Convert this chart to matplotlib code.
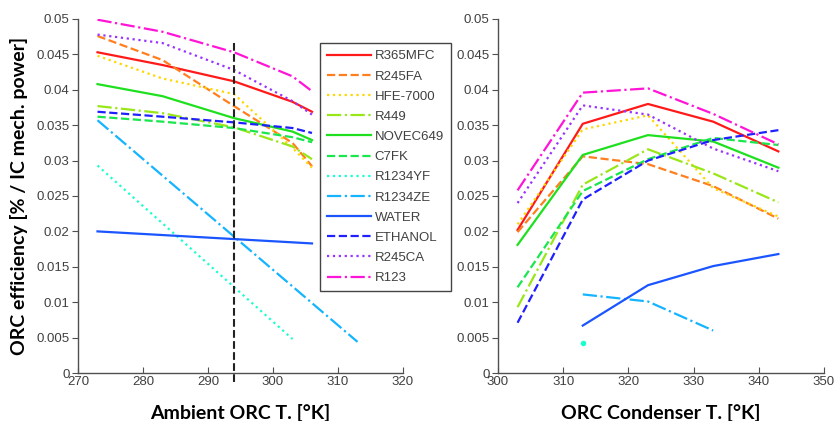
import matplotlib
matplotlib.use("Agg")
import matplotlib.pyplot as plt

# ---------------- data ----------------
fluids = ["R365MFC", "R245FA", "HFE-7000", "R449", "NOVEC649", "C7FK",
          "R1234YF", "R1234ZE", "WATER", "ETHANOL", "R245CA", "R123"]

# Left panel: ambient ORC temperature [K]
amb_T = [273, 283, 294, 303, 306]
amb_R365MFC = [0.0453, 0.0435, 0.0412, 0.0383, 0.0369]
amb_R245FA = [0.0476, 0.0442, 0.0377, 0.0325, 0.0292]
amb_HFE7000 = [0.0448, 0.0416, 0.0394, 0.0318, 0.0290]
amb_R449 = [0.0377, 0.0367, 0.0347, 0.0320, 0.0302]
amb_NOVEC649 = [0.0408, 0.0391, 0.0360, 0.0341, 0.0329]
amb_C7FK = [0.0362, 0.0355, 0.0346, 0.0333, 0.0326]
amb_R1234YF_T = [273, 303]
amb_R1234YF = [0.0293, 0.0048]
amb_R1234ZE_T = [273, 313]
amb_R1234ZE = [0.0357, 0.0044]
amb_WATER_T = [273, 306]
amb_WATER = [0.0200, 0.0183]
amb_ETHANOL = [0.0369, 0.0362, 0.0354, 0.0346, 0.0339]
amb_R245CA = [0.0478, 0.0466, 0.0428, 0.0384, 0.0365]
amb_R123 = [0.0499, 0.0482, 0.0453, 0.0419, 0.0398]
design_T = 294

# Right panel: ORC condenser temperature [K]
cond_T = [303, 313, 323, 333, 343]
cond_R365MFC = [0.0202, 0.0352, 0.0380, 0.0355, 0.0313]
cond_R245FA = [0.0199, 0.0306, 0.0295, 0.0264, 0.0218]
cond_HFE7000 = [0.0210, 0.0344, 0.0364, 0.0261, 0.0221]
cond_R449 = [0.0093, 0.0266, 0.0316, 0.0282, 0.0241]
cond_NOVEC649 = [0.0181, 0.0308, 0.0336, 0.0327, 0.0290]
cond_C7FK = [0.0121, 0.0257, 0.0302, 0.0332, 0.0322]
cond_R1234YF_T = [313]
cond_R1234YF = [0.0043]
cond_R1234ZE_T = [313, 323, 333]
cond_R1234ZE = [0.0111, 0.0101, 0.0060]
cond_WATER_T = [313, 323, 333, 343]
cond_WATER = [0.0067, 0.0124, 0.0151, 0.0168]
cond_ETHANOL = [0.0071, 0.0245, 0.0300, 0.0329, 0.0343]
cond_R245CA = [0.0240, 0.0378, 0.0365, 0.0317, 0.0285]
cond_R123 = [0.0258, 0.0396, 0.0402, 0.0366, 0.0323]

colors = ["#ff1a1a", "#ff7f1f", "#ffd700", "#99e619", "#1fe01f", "#1ae64d",
          "#1affd0", "#14b4ff", "#1a55ff", "#2020ff", "#9933ff", "#ff14d8"]
styles = ["-", "--", ":", "-.", "-", "--", ":", "-.", "-", "--", ":", "-."]

left_series = [
    (amb_T, amb_R365MFC), (amb_T, amb_R245FA), (amb_T, amb_HFE7000),
    (amb_T, amb_R449), (amb_T, amb_NOVEC649), (amb_T, amb_C7FK),
    (amb_R1234YF_T, amb_R1234YF), (amb_R1234ZE_T, amb_R1234ZE),
    (amb_WATER_T, amb_WATER), (amb_T, amb_ETHANOL), (amb_T, amb_R245CA),
    (amb_T, amb_R123)]
right_series = [
    (cond_T, cond_R365MFC), (cond_T, cond_R245FA), (cond_T, cond_HFE7000),
    (cond_T, cond_R449), (cond_T, cond_NOVEC649), (cond_T, cond_C7FK),
    (cond_R1234YF_T, cond_R1234YF), (cond_R1234ZE_T, cond_R1234ZE),
    (cond_WATER_T, cond_WATER), (cond_T, cond_ETHANOL), (cond_T, cond_R245CA),
    (cond_T, cond_R123)]

# ---------------- figure ----------------
W, H = 836, 421
fig = plt.figure(figsize=(W / 100, H / 100), dpi=100)
axL = fig.add_axes([78 / W, 1 - 373 / H, 325 / W, 354 / H])
axR = fig.add_axes([498 / W, 1 - 373 / H, 326 / W, 354 / H])

spine_col = "#505050"
tick_col = "#404040"
label_font = ["Lato", "DejaVu Sans"]
tick_font = ["Liberation Sans", "DejaVu Sans"]

handles = []
for i, (x, y) in enumerate(left_series):
    h, = axL.plot(x, y, styles[i], color=colors[i], lw=1.6, label=fluids[i])
    handles.append(h)
axL.plot([design_T, design_T], [0.0466, -0.0016], "--", color="#222222",
         lw=1.5, clip_on=False, zorder=5)

for i, (x, y) in enumerate(right_series):
    if len(x) == 1:
        axR.plot(x, y, "o", color=colors[i], ms=3)
    else:
        axR.plot(x, y, styles[i], color=colors[i], lw=1.6)

for ax, xl, xt, xlabel in [(axL, (270, 320), range(270, 321, 10), "Ambient ORC T. [°K]"),
                           (axR, (300, 350), range(300, 351, 10), "ORC Condenser T. [°K]")]:
    ax.set_xlim(*xl)
    ax.set_ylim(0, 0.05)
    ax.set_xticks(list(xt))
    ax.set_yticks([0, 0.005, 0.01, 0.015, 0.02, 0.025, 0.03, 0.035, 0.04, 0.045, 0.05])
    ax.set_yticklabels(["0", "0.005", "0.01", "0.015", "0.02", "0.025", "0.03",
                        "0.035", "0.04", "0.045", "0.05"])
    for s in ["top", "right"]:
        ax.spines[s].set_visible(False)
    for s in ["left", "bottom"]:
        ax.spines[s].set_color(spine_col)
        ax.spines[s].set_linewidth(1.0)
    ax.tick_params(axis="x", direction="in", length=4, color=spine_col,
                   labelcolor=tick_col, labelsize=9.5, pad=2)
    ax.tick_params(axis="y", direction="out", length=4, color=spine_col,
                   labelcolor=tick_col, labelsize=9.5, pad=2)
    for lab in ax.get_xticklabels() + ax.get_yticklabels():
        lab.set_fontfamily(tick_font)
    ax.set_xlabel(xlabel, fontsize=14, fontweight="bold", family=label_font,
                  labelpad=12)
    ax.patch.set_alpha(0)

axL.set_ylabel("ORC efficiency [% / IC mech. power]", fontsize=14,
               fontweight="bold", family=label_font, labelpad=6)

leg = fig.legend(handles=handles, loc="upper left",
                 bbox_to_anchor=(320 / W, 1 - 43 / H), borderaxespad=0,
                 prop={"family": tick_font, "size": 9.5},
                 handlelength=3.3, handletextpad=0.3, labelspacing=0.6,
                 borderpad=0.55, fancybox=False, framealpha=1)
leg.get_frame().set_edgecolor("#444444")
leg.get_frame().set_linewidth(1.0)
for t in leg.get_texts():
    t.set_color(tick_col)

fig.savefig("out.png", dpi=100)
